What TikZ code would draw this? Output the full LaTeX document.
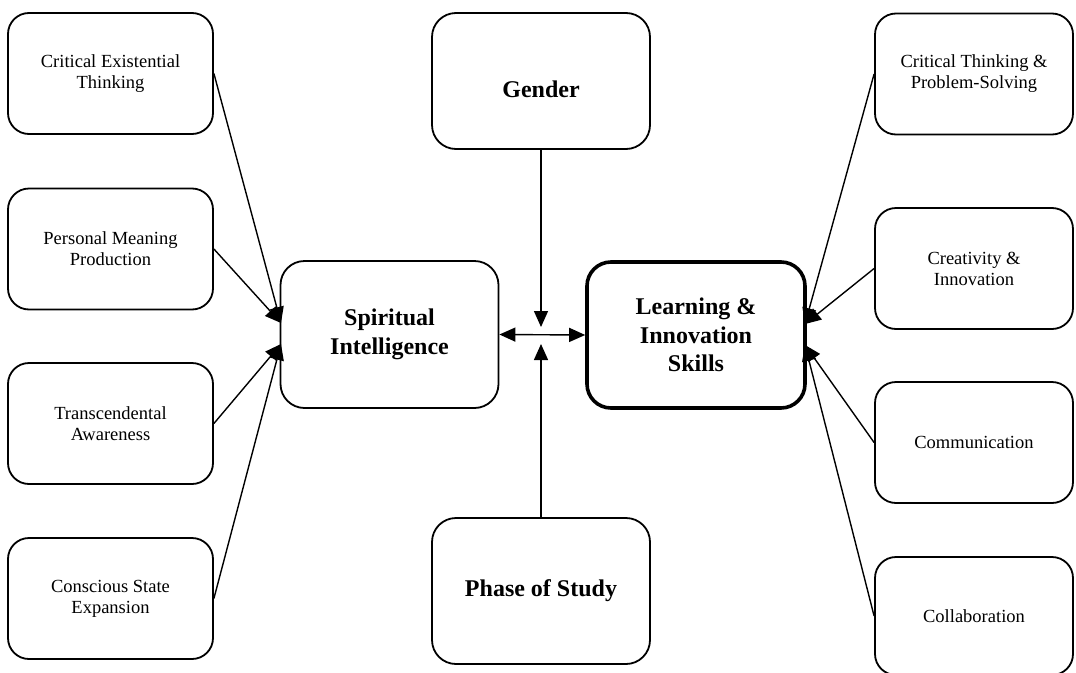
\documentclass[tikz,border=0pt]{standalone}
\usepackage{fontspec}
\setmainfont{Liberation Serif}
\usetikzlibrary{arrows.meta}
\begin{document}
\begin{tikzpicture}[x=1pt,y=-1pt,
  >={Triangle[length=16pt,width=14pt]},
  box/.style={draw, line width=1.8pt, rounded corners=21pt, align=center,
    inner sep=0pt, font=\fontsize{18.5}{21}\selectfont},
  sidebox/.style={box, minimum width=205pt, minimum height=121pt},
  rightbox/.style={box, minimum width=198pt, minimum height=121pt},
  bigbox/.style={box, rounded corners=24pt, minimum width=218pt,
    font=\fontsize{24}{28.5}\selectfont\bfseries},
  link/.style={line width=1.4pt, ->},
  biglink/.style={line width=1.4pt, <->},
]
\useasboundingbox (0,0) rectangle (1076,672);

% dimensions of spiritual intelligence
\node[sidebox] (cet) at (110.5,73.5) {Critical Existential\\Thinking};
\node[sidebox] (pmp) at (110.5,249) {Personal Meaning\\Production};
\node[sidebox] (ta)  at (110.5,423.5) {Transcendental\\Awareness};
\node[sidebox] (cse) at (110.5,598.5) {Conscious State\\Expansion};

% central constructs
\node[bigbox, minimum height=147pt] (si) at (389.5,334.5) {Spiritual\\Intelligence};
\node[bigbox, minimum height=146pt, line width=3.6pt] (lis) at (696,335) {Learning \&\\Innovation\\Skills};
\node[bigbox, minimum height=136pt] (gen) at (541,81) {\raisebox{-8pt}[\height][\depth]{Gender}};
\node[bigbox, minimum height=146pt] (pos) at (541,591) {Phase of Study};

% dimensions of learning and innovation skills
\node[rightbox] (ctp) at (974,74) {Critical Thinking \&\\Problem-Solving};
\node[rightbox] (ci)  at (974,268.5) {Creativity \&\\Innovation};
\node[rightbox] (com) at (974,442.5) {Communication};
\node[rightbox, minimum height=118pt] (col) at (974,616) {Collaboration};

% arrow targets on the central boxes
\coordinate (siA) at (281,323);
\coordinate (siB) at (281,344);
\coordinate (lisA) at (805,324);
\coordinate (lisB) at (805,345);
\coordinate (modA) at (541,327);
\coordinate (modB) at (541,344);

\draw[link] (cet.east) -- (siA);
\draw[link] (pmp.east) -- (siA);
\draw[link] (ta.east) -- (siB);
\draw[link] (cse.east) -- (siB);

\draw[link] (ctp.west) -- (lisA);
\draw[link] (ci.west) -- (lisA);
\draw[link] (com.west) -- (lisB);
\draw[link] (col.west) -- (lisB);

\draw[biglink] (si.east) -- (lis.west);
\draw[link] (gen.south) -- (modA);
\draw[link] (pos.north) -- (modB);
\end{tikzpicture}
\end{document}
